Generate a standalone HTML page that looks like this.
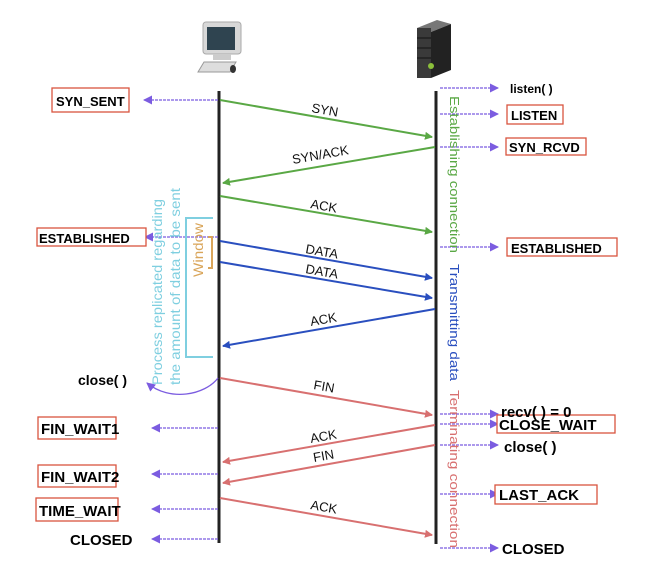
<!DOCTYPE html>
<html><head><meta charset="utf-8"><style>
html,body{margin:0;padding:0;background:#fff;}
svg{display:block;}
.lb{font-family:"Liberation Sans",sans-serif;font-weight:bold;font-size:13px;fill:#000;}
.ml{font-family:"Liberation Sans",sans-serif;font-size:13px;fill:#111;}
</style></head><body>
<svg width="655" height="562" viewBox="0 0 655 562" xmlns="http://www.w3.org/2000/svg">
<defs>
<marker id="pg" markerWidth="8" markerHeight="8" refX="7" refY="4" orient="auto" markerUnits="userSpaceOnUse"><path d="M0,0 L8,4 L0,8z" fill="#5aa845"/></marker>
<marker id="pb" markerWidth="8" markerHeight="8" refX="7" refY="4" orient="auto" markerUnits="userSpaceOnUse"><path d="M0,0 L8,4 L0,8z" fill="#2a4fbf"/></marker>
<marker id="pr" markerWidth="8" markerHeight="8" refX="7" refY="4" orient="auto" markerUnits="userSpaceOnUse"><path d="M0,0 L8,4 L0,8z" fill="#d87070"/></marker>
<marker id="pp" markerWidth="9" markerHeight="9" refX="8" refY="4.5" orient="auto" markerUnits="userSpaceOnUse"><path d="M0,0 L9,4.5 L0,9z" fill="#7b5ce0"/></marker>
</defs>

<!-- computer -->
<g>
<rect x="203" y="22" width="38" height="32" rx="3" fill="#d8d8d8" stroke="#aaa"/>
<rect x="207" y="27" width="28" height="23" fill="#2f4450"/>
<rect x="213" y="54" width="18" height="6" fill="#ccc"/>
<polygon points="198,72 230,72 236,62 204,62" fill="#ddd" stroke="#999"/>
<ellipse cx="233" cy="69" rx="3" ry="4" fill="#333"/>
</g>
<!-- server -->
<g>
<polygon points="417,28 437,20 451,24 431,32" fill="#777"/>
<polygon points="431,32 451,24 451,70 431,78" fill="#222"/>
<rect x="417" y="28" width="14" height="50" fill="#3a3a3a"/>
<line x1="417" y1="38" x2="431" y2="38" stroke="#111"/>
<line x1="417" y1="48" x2="431" y2="48" stroke="#111"/>
<line x1="417" y1="58" x2="431" y2="58" stroke="#111"/>
<circle cx="431" cy="66" r="3" fill="#8bbf3a"/>
</g>

<!-- lifelines -->
<line x1="219" y1="91" x2="219" y2="543" stroke="#222" stroke-width="3"/>
<line x1="436" y1="91" x2="436" y2="544" stroke="#222" stroke-width="3"/>

<!-- messages -->
<g stroke-width="2" fill="none">
<line x1="220" y1="100" x2="432" y2="137" stroke="#5aa845" marker-end="url(#pg)"/>
<line x1="435" y1="147" x2="223" y2="183" stroke="#5aa845" marker-end="url(#pg)"/>
<line x1="220" y1="196" x2="432" y2="232" stroke="#5aa845" marker-end="url(#pg)"/>
<line x1="220" y1="241" x2="432" y2="278" stroke="#2a4fbf" marker-end="url(#pb)"/>
<line x1="220" y1="262" x2="432" y2="298" stroke="#2a4fbf" marker-end="url(#pb)"/>
<line x1="435" y1="309" x2="223" y2="346" stroke="#2a4fbf" marker-end="url(#pb)"/>
<line x1="220" y1="378" x2="432" y2="415" stroke="#d87070" marker-end="url(#pr)"/>
<line x1="435" y1="425" x2="223" y2="462" stroke="#d87070" marker-end="url(#pr)"/>
<line x1="435" y1="445" x2="223" y2="483" stroke="#d87070" marker-end="url(#pr)"/>
<line x1="220" y1="498" x2="432" y2="535" stroke="#d87070" marker-end="url(#pr)"/>
</g>
<g class="ml">
<text transform="translate(311,112) rotate(10)">SYN</text>
<text transform="translate(293,164) rotate(-10)">SYN/ACK</text>
<text transform="translate(310,208) rotate(10)">ACK</text>
<text transform="translate(305,253) rotate(10)">DATA</text>
<text transform="translate(305,273) rotate(10)">DATA</text>
<text transform="translate(311,326) rotate(-10)">ACK</text>
<text transform="translate(313,389) rotate(10)">FIN</text>
<text transform="translate(311,443) rotate(-10)">ACK</text>
<text transform="translate(314,462) rotate(-10)">FIN</text>
<text transform="translate(310,509) rotate(10)">ACK</text>
</g>

<!-- state arrows -->
<g stroke="#7b5ce0" stroke-width="1.3" stroke-dasharray="3,1" fill="none">
<line x1="218" y1="100" x2="144" y2="100" marker-end="url(#pp)"/>
<line x1="218" y1="237" x2="145" y2="237" marker-end="url(#pp)"/>
<line x1="218" y1="428" x2="152" y2="428" marker-end="url(#pp)"/>
<line x1="218" y1="474" x2="152" y2="474" marker-end="url(#pp)"/>
<line x1="218" y1="509" x2="152" y2="509" marker-end="url(#pp)"/>
<line x1="218" y1="539" x2="152" y2="539" marker-end="url(#pp)"/>
<line x1="440" y1="88" x2="498" y2="88" marker-end="url(#pp)"/>
<line x1="440" y1="114" x2="498" y2="114" marker-end="url(#pp)"/>
<line x1="440" y1="147" x2="498" y2="147" marker-end="url(#pp)"/>
<line x1="440" y1="247" x2="498" y2="247" marker-end="url(#pp)"/>
<line x1="440" y1="414" x2="498" y2="414" marker-end="url(#pp)"/>
<line x1="440" y1="424" x2="498" y2="424" marker-end="url(#pp)"/>
<line x1="440" y1="445" x2="498" y2="445" marker-end="url(#pp)"/>
<line x1="440" y1="494" x2="498" y2="494" marker-end="url(#pp)"/>
<line x1="440" y1="548" x2="498" y2="548" marker-end="url(#pp)"/>
<path d="M218,378 C205,395 170,402 147,383" stroke-dasharray="none" marker-end="url(#pp)"/>
</g>

<!-- boxes -->
<g fill="#fff" stroke="#d9543f" stroke-width="1.3">
<rect x="52" y="88" width="77" height="24"/>
<rect x="37" y="228" width="109" height="18"/>
<rect x="507" y="105" width="56" height="19"/>
<rect x="506" y="138" width="80" height="17"/>
<rect x="507" y="238" width="110" height="18"/>
<rect x="38" y="417" width="78" height="22"/>
<rect x="38" y="465" width="78" height="22"/>
<rect x="36" y="498" width="82" height="23"/>
<rect x="497" y="415" width="118" height="18"/>
<rect x="495" y="485" width="102" height="19"/>
</g>
<g class="lb">
<text x="56" y="106">SYN_SENT</text>
<text x="39" y="243">ESTABLISHED</text>
<text x="511" y="120">LISTEN</text>
<text x="509" y="152">SYN_RCVD</text>
<text x="511" y="253">ESTABLISHED</text>
<text x="510" y="93" font-size="12">listen( )</text>
<text x="78" y="385" font-size="14">close( )</text>
<text x="501" y="417" font-size="15">recv( ) = 0</text>
<text x="499" y="430" font-size="15">CLOSE_WAIT</text>
<text x="504" y="452" font-size="15">close( )</text>
<text x="499" y="500" font-size="15">LAST_ACK</text>
<text x="502" y="554" font-size="15">CLOSED</text>
<text x="41" y="434" font-size="15">FIN_WAIT1</text>
<text x="41" y="482" font-size="15">FIN_WAIT2</text>
<text x="39" y="516" font-size="15">TIME_WAIT</text>
<text x="70" y="545" font-size="15">CLOSED</text>
</g>

<!-- vertical labels right -->
<g font-family="Liberation Sans, sans-serif" font-size="13">
<text transform="translate(450,96) rotate(90)" fill="#5aa845" textLength="157" lengthAdjust="spacingAndGlyphs">Establishing connection</text>
<text transform="translate(450,264) rotate(90)" fill="#2a4fbf" textLength="117" lengthAdjust="spacingAndGlyphs">Transmitting data</text>
<text transform="translate(450,390) rotate(90)" fill="#d87070" textLength="158" lengthAdjust="spacingAndGlyphs">Terminating connection</text>
</g>

<!-- left window / process -->
<g fill="none" stroke-width="2">
<path d="M213,218 L186,218 L186,357 L213,357" stroke="#7fcfe0"/>
<path d="M208,237 L212,237 L212,268 L208,268" stroke="#d9a55a"/>
</g>
<g font-family="Liberation Sans, sans-serif" font-size="14" fill="#7fcfe0">
<text transform="translate(162,385) rotate(-90)" textLength="186" lengthAdjust="spacingAndGlyphs">Process replicated regarding</text>
<text transform="translate(180,385) rotate(-90)" textLength="197" lengthAdjust="spacingAndGlyphs">the amount of data to be sent</text>
</g>
<text transform="translate(203,277) rotate(-90)" font-family="Liberation Sans, sans-serif" font-size="14" fill="#d9a55a" textLength="54" lengthAdjust="spacingAndGlyphs">Window</text>
</svg>
</body></html>
